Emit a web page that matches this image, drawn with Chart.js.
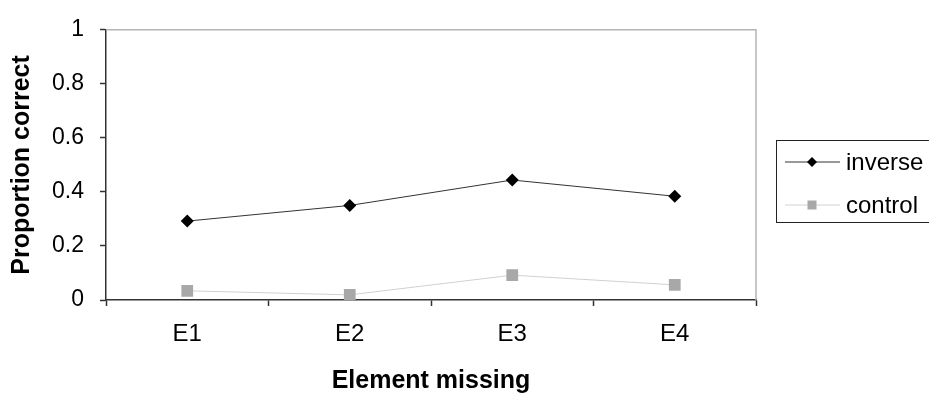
<!DOCTYPE html>
<html>
<head>
<meta charset="utf-8">
<script src="https://cdn.jsdelivr.net/npm/chart.js@4/dist/chart.umd.min.js"></script>
<style>
  html, body { margin: 0; padding: 0; background: #fff; }
  #wrap { width: 929px; height: 401px; position: relative; }
</style>
</head>
<body>
<div id="wrap"><canvas id="c" width="929" height="401"></canvas></div>
<script>
// Proportion correct per missing element
const categories = ['E1', 'E2', 'E3', 'E4'];
const inverseValues = [0.292, 0.350, 0.444, 0.384];
const controlValues = [0.034, 0.019, 0.092, 0.056];
const yTickValues = [0, 0.2, 0.4, 0.6, 0.8, 1];
const seriesNames = ['inverse', 'control'];

const FONT = "'Liberation Sans', Arial, sans-serif";

// Grey frame on the top and right of the plot area
const plotFrame = {
  id: 'plotFrame',
  beforeDatasetsDraw(chart) {
    const { ctx, chartArea: a } = chart;
    ctx.save();
    ctx.strokeStyle = '#b4b4b4';
    ctx.lineWidth = 1.5;
    ctx.beginPath();
    ctx.moveTo(a.left, a.top);
    ctx.lineTo(a.right, a.top);
    ctx.lineTo(a.right, a.bottom);
    ctx.stroke();
    ctx.restore();
  }
};

// Boxed legend: line sample with the series marker in the middle;
// the box runs past the right edge of the canvas
const boxedLegend = {
  id: 'boxedLegend',
  afterDraw(chart) {
    const { ctx } = chart;
    const box = { x: 776.5, y: 140.5, w: 200, h: 82 };
    ctx.save();
    ctx.strokeStyle = '#222';
    ctx.lineWidth = 1;
    ctx.strokeRect(box.x, box.y, box.w, box.h);
    const rows = [162, 205];
    chart.data.datasets.forEach((ds, i) => {
      const y = rows[i];
      ctx.strokeStyle = ds.borderColor;
      ctx.lineWidth = 1;
      ctx.beginPath();
      ctx.moveTo(785, y);
      ctx.lineTo(840, y);
      ctx.stroke();
      ctx.fillStyle = ds.pointBackgroundColor;
      ctx.beginPath();
      if (ds.pointStyle === 'rectRot') {
        const r = 5;
        ctx.moveTo(812 - r, y);
        ctx.lineTo(812, y - r);
        ctx.lineTo(812 + r, y);
        ctx.lineTo(812, y + r);
        ctx.closePath();
      } else {
        ctx.rect(812 - 4.5, y - 4.5, 9, 9);
      }
      ctx.fill();
      ctx.fillStyle = '#000';
      ctx.font = '24px ' + FONT;
      ctx.textAlign = 'left';
      ctx.textBaseline = 'middle';
      ctx.fillText(ds.label, 846, y + 1);
    });
    ctx.restore();
  }
};

new Chart(document.getElementById('c'), {
  type: 'line',
  data: {
    labels: categories,
    datasets: [
      {
        label: seriesNames[0],
        data: inverseValues,
        borderColor: '#333333',
        borderWidth: 1,
        pointStyle: 'rectRot',
        pointRadius: 6.5,
        pointHoverRadius: 6.5,
        pointBackgroundColor: '#000000',
        pointBorderColor: '#000000',
        pointBorderWidth: 0,
        tension: 0
      },
      {
        label: seriesNames[1],
        data: controlValues,
        borderColor: '#d0d0d0',
        borderWidth: 1,
        pointStyle: 'rect',
        pointRadius: 8.3,
        pointHoverRadius: 8.3,
        pointBackgroundColor: '#a8a8a8',
        pointBorderColor: '#a8a8a8',
        pointBorderWidth: 0,
        tension: 0
      }
    ]
  },
  options: {
    responsive: false,
    animation: false,
    devicePixelRatio: 1,
    layout: { padding: { top: 23, right: 173, left: 0, bottom: 0 } },
    plugins: {
      legend: { display: false },
      tooltip: { enabled: false }
    },
    scales: {
      x: {
        type: 'category',
        offset: true,
        grid: {
          offset: true,
          drawOnChartArea: false,
          drawTicks: true,
          tickLength: 6,
          tickColor: '#333',
          tickWidth: 1.5
        },
        border: { display: true, color: '#333', width: 1.5 },
        ticks: {
          color: '#000',
          font: { family: FONT, size: 24 },
          padding: 14,
          maxRotation: 0
        },
        title: {
          display: true,
          text: 'Element missing',
          color: '#000',
          font: { family: FONT, size: 25, weight: 'bold' },
          padding: { top: 0, bottom: 5 }
        },
        afterFit(scale) { scale.height = 101; }
      },
      y: {
        min: 0,
        max: 1,
        afterBuildTicks(scale) {
          scale.ticks = yTickValues.map(v => ({ value: v }));
        },
        grid: {
          drawOnChartArea: false,
          drawTicks: true,
          tickLength: 6,
          tickColor: '#333',
          tickWidth: 1.5
        },
        border: { display: true, color: '#333', width: 1.5 },
        ticks: {
          color: '#000',
          font: { family: FONT, size: 23 },
          padding: 16,
          callback: v => String(v)
        },
        title: {
          display: true,
          text: 'Proportion correct',
          color: '#000',
          font: { family: FONT, size: 25, weight: 'bold' },
          padding: { top: 7, bottom: 0 }
        },
        afterFit(scale) { scale.width = 106; }
      }
    }
  },
  plugins: [plotFrame, boxedLegend]
});
</script>
</body>
</html>
